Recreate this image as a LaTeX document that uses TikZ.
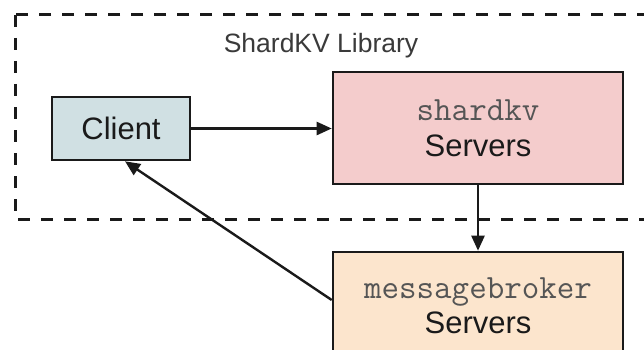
\documentclass[tikz,border=0pt]{standalone}
\usepackage{fontspec}
\setmainfont{Liberation Sans}
\usetikzlibrary{arrows.meta,calc}

\definecolor{clientfill}{HTML}{D0E0E3}
\definecolor{shardfill}{HTML}{F4CCCC}
\definecolor{brokerfill}{HTML}{FCE5CD}
\definecolor{codegray}{HTML}{555555}
\definecolor{titlegray}{HTML}{3A3A3A}
\definecolor{ink}{HTML}{1A1A1A}

\newcommand{\codename}[1]{{\ttfamily\color{codegray}\fontsize{34}{36}\selectfont #1}}

\tikzset{
  box/.style={draw=ink, line width=2.6pt, rectangle, inner sep=0pt, align=center,
    font=\fontsize{31}{35}\selectfont, text=ink},
  arr/.style={draw=ink, line width=2.4pt, -{Triangle[length=15pt,width=13pt]}},
  libframe/.style={draw=ink, line width=3pt, dash pattern=on 12pt off 11pt}
}

\begin{document}
\begin{tikzpicture}[x=1pt,y=-1pt]
  \useasboundingbox (0,0) rectangle (644,350);
  \clip (0,0) rectangle (644,350);
  \fill[white] (0,0) rectangle (644,350);

  % library boundary (runs off the right edge)
  \draw[libframe] (15,15) rectangle (680,219);
  \node[font=\fontsize{26.5}{30}\selectfont, text=titlegray] (title) at (321,46) {ShardKV Library};

  % components
  \node[box, fill=clientfill, minimum width=138pt, minimum height=63pt] (client) at (121,128.5) {Client};
  \node[box, fill=shardfill, minimum width=290pt, minimum height=112pt] (shard) at (478,128)
    {\codename{shardkv}\\[1pt]Servers};
  \node[box, fill=brokerfill, minimum width=290pt, minimum height=108pt] (broker) at (478,306)
    {\codename{messagebroker}\\[0pt]Servers};

  % data flow
  \draw[arr] (client.east) -- (client.east -| shard.west);
  \draw[arr] (shard.south) -- (broker.north);
  \draw[arr] ($(broker.west)+(0,-6)$) -- ($(client.south)+(4,0)$);
\end{tikzpicture}
\end{document}
